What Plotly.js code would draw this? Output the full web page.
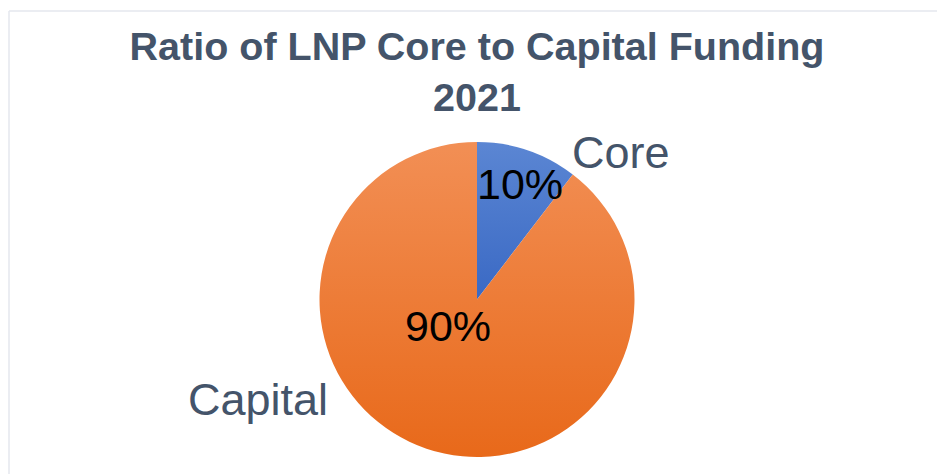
<!DOCTYPE html>
<html>
<head>
<meta charset="utf-8">
<script src="https://cdn.plot.ly/plotly-3.0.1.min.js"></script>
<style>html,body{margin:0;padding:0;background:#fff;}#chart{width:937px;height:474px;}</style>
</head>
<body>
<div id="chart"></div>
<script>
const chartTitle = "Ratio of LNP Core to Capital Funding<br>2021";
const categories = ["Core", "Capital"];
const values = [10.4, 89.6];
const sliceColors = ["#4A78CC", "#EE7B2F"];

const W = 937, H = 474;
const cx = 477, cy = 299.5, r = 157.5;
const total = values.reduce((a, b) => a + b, 0);
const pct = values.map(v => Math.round(v / total * 100) + "%");

const labelPos = [[621, 152], [258, 399]];
const pctPos = [[520, 184], [448, 326]];

const annotations = [];
categories.forEach((c, i) => {
  annotations.push({
    text: c, xref: "paper", yref: "paper",
    x: labelPos[i][0] / W, y: 1 - labelPos[i][1] / H,
    xanchor: "center", yanchor: "middle", showarrow: false,
    font: {family: "Liberation Sans, Arial, sans-serif", size: 45, color: "#44546A"}
  });
  annotations.push({
    text: pct[i], xref: "paper", yref: "paper",
    x: pctPos[i][0] / W, y: 1 - pctPos[i][1] / H,
    xanchor: "center", yanchor: "middle", showarrow: false,
    font: {family: "Liberation Sans, Arial, sans-serif", size: 43, color: "#000000"}
  });
});

const data = [{
  type: "pie",
  labels: categories,
  values: values,
  sort: false,
  direction: "clockwise",
  rotation: 0,
  textinfo: "none",
  hoverinfo: "label+percent",
  marker: {colors: sliceColors, line: {width: 0}},
  domain: {x: [(cx - r) / W, (cx + r) / W], y: [1 - (cy + r) / H, 1 - (cy - r) / H]},
  showlegend: false
}];

const layout = {
  width: W, height: H,
  margin: {l: 0, r: 0, t: 0, b: 0},
  paper_bgcolor: "#ffffff",
  title: {
    text: chartTitle,
    x: 477 / W, xanchor: "center",
    y: 1 - 60 / H, yanchor: "middle",
    font: {family: "Liberation Sans, Arial, sans-serif", size: 39.5, color: "#44546A", weight: "bold"}
  },
  annotations: annotations,
  shapes: [
    {type: "line", xref: "paper", yref: "paper", x0: 9 / W, x1: 1.01, y0: 1 - 11 / H, y1: 1 - 11 / H, line: {color: "#E4E7EE", width: 1.5}},
    {type: "line", xref: "paper", yref: "paper", x0: 9 / W, x1: 9 / W, y0: 1 - 11 / H, y1: -0.01, line: {color: "#E4E7EE", width: 1.5}}
  ]
};

Plotly.newPlot("chart", data, layout, {displayModeBar: false, staticPlot: true}).then(() => {
  const svg = document.querySelector("#chart .main-svg");
  const ns = "http://www.w3.org/2000/svg";
  let defs = svg.querySelector("defs");
  if (!defs) { defs = document.createElementNS(ns, "defs"); svg.insertBefore(defs, svg.firstChild); }
  const grads = [["#5B86D3", "#3A69C4"], ["#F28F55", "#E8691A"]];
  grads.forEach((g, i) => {
    const lg = document.createElementNS(ns, "linearGradient");
    lg.setAttribute("id", "sliceGrad" + i);
    lg.setAttribute("x1", "0"); lg.setAttribute("y1", "0");
    lg.setAttribute("x2", "0"); lg.setAttribute("y2", "1");
    [[0, g[0]], [1, g[1]]].forEach(([o, c]) => {
      const s = document.createElementNS(ns, "stop");
      s.setAttribute("offset", o); s.setAttribute("stop-color", c);
      lg.appendChild(s);
    });
    defs.appendChild(lg);
  });
  document.querySelectorAll("#chart .slice path.surface").forEach((p, i) => {
    p.style.fill = "url(#sliceGrad" + i + ")";
  });
});
</script>
</body>
</html>
